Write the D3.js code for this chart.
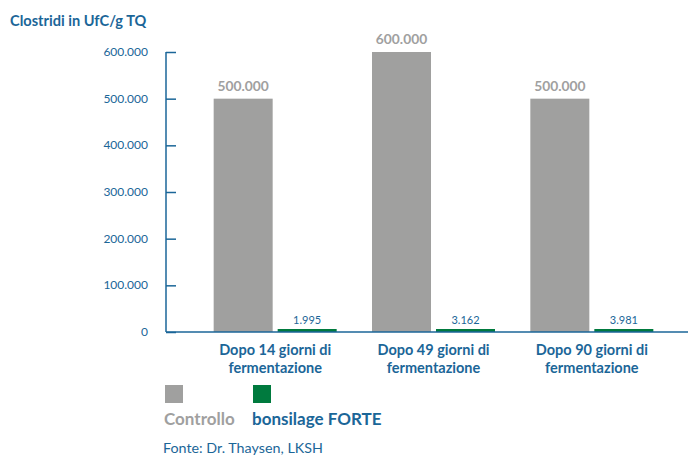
<!DOCTYPE html>
<html>
<head>
<meta charset="utf-8">
<script src="https://cdn.jsdelivr.net/npm/d3@7"></script>
<style>
  body { margin: 0; background: #fff; }
  svg text { font-family: Lato, "Open Sans", sans-serif; }
</style>
</head>
<body>
<div id="chart"></div>
<script>
const categories = ["Dopo 14 giorni di|fermentazione", "Dopo 49 giorni di|fermentazione", "Dopo 90 giorni di|fermentazione"];
const controllo = [500000, 600000, 500000];
const bonsilage = [1995, 3162, 3981];
const seriesNames = ["Controllo", "bonsilage FORTE"];
const yTicks = [0, 100000, 200000, 300000, 400000, 500000, 600000];

const blue = "#1b6698", gray = "#a0a09f", green = "#007a3e";
const W = 692, H = 457;

const svg = d3.select("#chart").append("svg").attr("width", W).attr("height", H);

const x = d3.scaleBand().domain(categories).range([196, 671]);
const y = d3.scaleLinear().domain([0, 600000]).range([332, 52]);
const fmt = v => v === 0 ? "0" : d3.format(",.0f")(v).replace(/,/g, ".");

// title
svg.append("text").attr("x", 10).attr("y", 26)
  .style("font-size", "14.6px").style("font-weight", "bold").style("fill", blue)
  .text("Clostridi in UfC/g TQ");

// y axis
const yAxis = svg.append("g").attr("transform", "translate(166,0)")
  .call(d3.axisRight(y).tickValues(yTicks).tickSize(10).tickFormat(""));
yAxis.select(".domain").remove();
yAxis.selectAll("line").attr("stroke", blue).attr("stroke-width", 1.5);
svg.append("line").attr("x1", 166).attr("x2", 166).attr("y1", y(600000)).attr("y2", y(0))
  .attr("stroke", blue).attr("stroke-width", 1.5);
svg.selectAll(".ylab").data(yTicks).join("text").attr("class", "ylab")
  .attr("x", 148).attr("y", d => y(d) + 4).attr("text-anchor", "end")
  .style("font-size", "12px").style("fill", blue).text(fmt);

// bars
const barW = 59, gap = 5;
const groups = svg.selectAll(".grp").data(categories).join("g").attr("class", "grp")
  .attr("transform", d => `translate(${x(d) + x.bandwidth() / 2},0)`);

groups.append("rect")
  .attr("x", -barW - gap / 2).attr("width", barW)
  .attr("y", (d, i) => y(controllo[i])).attr("height", (d, i) => y(0) - y(controllo[i]))
  .attr("fill", gray);
groups.append("rect")
  .attr("x", gap / 2).attr("width", barW)
  .attr("y", (d, i) => Math.min(y(bonsilage[i]), y(0) - 3))
  .attr("height", (d, i) => Math.max(y(0) - y(bonsilage[i]), 3))
  .attr("fill", green);

groups.append("text")
  .attr("x", -barW / 2 - gap / 2).attr("y", (d, i) => y(controllo[i]) - 8)
  .attr("text-anchor", "middle").style("font-size", "13.8px").style("font-weight", "bold")
  .style("fill", gray).text((d, i) => fmt(controllo[i]));
groups.append("text")
  .attr("x", barW / 2 + gap / 2).attr("y", (d, i) => y(0) - 8)
  .attr("text-anchor", "middle").style("font-size", "11px")
  .style("fill", blue).text((d, i) => fmt(bonsilage[i]));

// x axis line
svg.append("line").attr("x1", 166).attr("x2", 688).attr("y1", y(0)).attr("y2", y(0))
  .attr("stroke", blue).attr("stroke-width", 1.5);

// category labels
groups.each(function (d) {
  const t = d3.select(this).append("text").attr("text-anchor", "middle")
    .style("font-size", "14.5px").style("font-weight", "bold").style("fill", blue);
  d.split("|").forEach((line, k) => {
    t.append("tspan").attr("x", 0).attr("y", 355 + k * 18).text(line);
  });
});

// legend
const legColors = [gray, green], legText = [gray, blue], legX = [165, 253];
seriesNames.forEach((name, i) => {
  svg.append("rect").attr("x", legX[i]).attr("y", 385).attr("width", 18).attr("height", 18)
    .attr("fill", legColors[i]);
  svg.append("text").attr("x", legX[i] - 1).attr("y", 425)
    .style("font-size", "17px").style("font-weight", "bold").style("fill", legText[i]).text(name);
});

svg.append("text").attr("x", 163).attr("y", 453)
  .style("font-size", "14.3px").style("fill", blue).text("Fonte: Dr. Thaysen, LKSH");
</script>
</body>
</html>
